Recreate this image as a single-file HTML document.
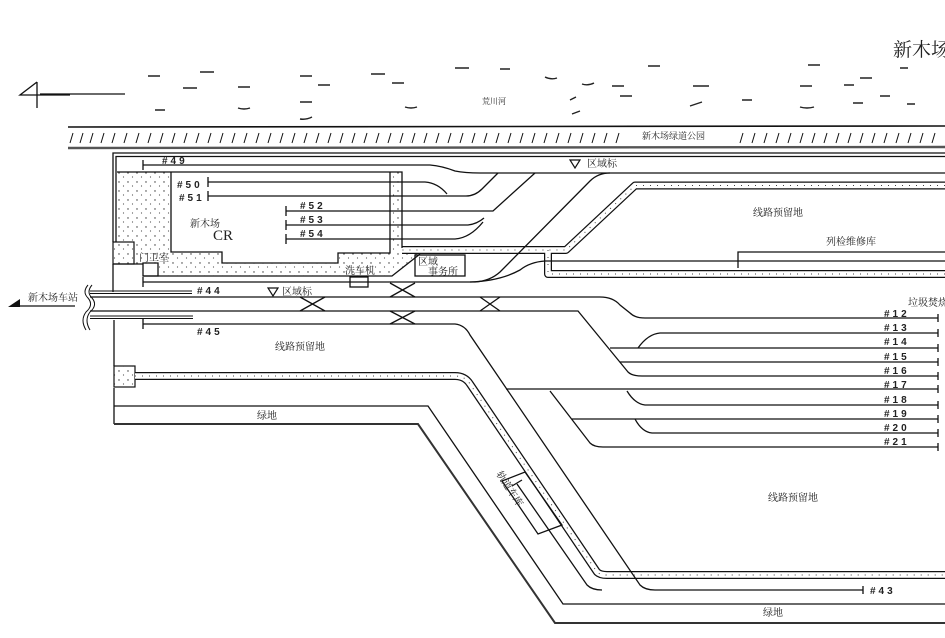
<!DOCTYPE html>
<html><head><meta charset="utf-8"><style>
html,body{margin:0;padding:0;background:#fff;width:945px;height:638px;overflow:hidden}
svg{display:block}
text{font-family:"Liberation Serif","Noto Serif CJK SC",serif;fill:#222}
.t{font-size:10px}
.n{font-size:10px;letter-spacing:3px;font-family:"Liberation Sans","Noto Sans CJK SC",sans-serif;font-weight:bold}
</style></head><body>
<svg width="945" height="638" viewBox="0 0 945 638" xmlns="http://www.w3.org/2000/svg">
<defs>
<pattern id="dots" width="9" height="9" patternUnits="userSpaceOnUse">
<rect width="9" height="9" fill="#fff"/><circle cx="2" cy="2" r="0.7" fill="#333"/><circle cx="6.5" cy="6" r="0.6" fill="#555"/>
</pattern>
</defs>
<text x="893" y="56" style="font-size:19px">新木场</text>
<!-- north arrow -->
<g stroke="#111" stroke-width="1.3" fill="none">
<path d="M37,82 L37,108 M37,82 L20,95 L70,95 M40,94 L125,94"/>
</g>
<!-- river dashes -->
<g stroke="#222" stroke-width="1.4" fill="none">
<path d="M148,76h12 M200,72h14 M300,76h12 M371,74h14 M455,68h14 M500,69h10 M545,77q6,3 12,1 M582,84q6,2 12,-1 M648,66h12 M808,65h12 M860,78h12 M900,68h8
M183,88h14 M238,87h12 M318,85h12 M392,83h12 M612,86h12 M693,86h16 M800,86h12 M844,85h10 M880,96h10
M155,110h10 M238,108q6,2 12,0 M300,102h12 M405,107q6,2 12,0 M570,100l6,-3 M620,96h12 M690,106l12,-4 M742,100h10 M800,107q7,2 14,0 M853,103h10 M907,104h8
M300,119q6,1 12,-2 M572,114l8,-3"/>
</g>
<text x="482" y="104" style="font-size:8px">荒川河</text>
<!-- embankment -->
<g stroke="#111" fill="none">
<path d="M68,127 L945,126" stroke-width="1.6"/>
<path d="M68,148 L945,147" stroke="#555" stroke-width="2.4"/>
<path stroke-width="1" d="M70,143l3,-10 M80,143l3,-10 M90,143l3,-10 M101,143l3,-10 M112,143l3,-10 M124,143l3,-10 M136,143l3,-10 M148,143l3,-10 M160,143l3,-10 M172,143l3,-10 M184,143l3,-10 M196,143l3,-10 M208,143l3,-10 M220,143l3,-10 M232,143l3,-10 M244,143l3,-10 M256,143l3,-10 M268,143l3,-10 M280,143l3,-10 M292,143l3,-10 M304,143l3,-10 M316,143l3,-10 M328,143l3,-10 M340,143l3,-10 M352,143l3,-10 M364,143l3,-10 M376,143l3,-10 M388,143l3,-10 M400,143l3,-10 M412,143l3,-10 M424,143l3,-10 M436,143l3,-10 M448,143l3,-10 M460,143l3,-10 M472,143l3,-10 M484,143l3,-10 M496,143l3,-10 M508,143l3,-10 M520,143l3,-10 M532,143l3,-10 M544,143l3,-10 M556,143l3,-10 M568,143l3,-10 M580,143l3,-10 M592,143l3,-10 M604,143l3,-10 M616,143l3,-10
M740,143l3,-10 M752,143l3,-10 M764,143l3,-10 M776,143l3,-10 M788,143l3,-10 M800,143l3,-10 M812,143l3,-10 M824,143l3,-10 M836,143l3,-10 M848,143l3,-10 M860,143l3,-10 M872,143l3,-10 M884,143l3,-10 M896,143l3,-10 M908,143l3,-10 M920,143l3,-10 M932,143l3,-10"/>
</g>
<text x="642" y="139" style="font-size:9px">新木场绿道公园</text>

<path d="M117,172 L171,172 L171,252 L222,252 L222,263 L338,263 L338,253 L390,253 L390,172 L402,172 L402,248 L418,254 L392,276 L158,276 L158,264 L134,264 L134,242 L117,242 Z" fill="url(#dots)" stroke="none"/>
<rect x="113" y="242" width="21" height="22" fill="url(#dots)" stroke="#111" stroke-width="1.2"/>
<rect x="114" y="366" width="21" height="21" fill="url(#dots)" stroke="#111" stroke-width="1.2"/>

<g fill="none" stroke-linejoin="round">
<path d="M945,185.5 L635,185.5 L566,250 L402,250 M548,250 L548,274 L945,274" stroke="#111" stroke-width="8"/>
<path d="M945,185.5 L635,185.5 L566,250 L402,250 M548,250 L548,274 L945,274" stroke="#fff" stroke-width="5.5"/>
<path d="M945,185.5 L635,185.5 L566,250 L402,250 M548,250 L548,274 L945,274" stroke="#444" stroke-width="1" stroke-dasharray="1 6"/>
<path d="M135,376 L455,376 Q465,376 470,384 L597,572 Q600,575 607,575 L945,575" stroke="#111" stroke-width="8"/>
<path d="M135,376 L455,376 Q465,376 470,384 L597,572 Q600,575 607,575 L945,575" stroke="#fff" stroke-width="5.5"/>
<path d="M135,376 L455,376 Q465,376 470,384 L597,572 Q600,575 607,575 L945,575" stroke="#444" stroke-width="1" stroke-dasharray="1 6"/>
</g>

<g fill="none" stroke="#111" stroke-width="1.3">
<path d="M945,153 L113,153 L113,242"/>
<path d="M945,156.5 L116,156.5 L116,242"/>
<path d="M117,172 L402,172 L402,248"/>
<path d="M171,172 L171,252 L222,252 L222,263 L338,263 L338,253 L390,253 L390,172"/>
<path d="M113,264 L143,264 M143,263 L158,263 L158,276 L143,276 Z"/>
<path d="M143,276 L392,276 L420,254"/>
<path d="M113,264 L113,292 M114,320 L114,366 M114,388 L114,424"/>
<rect x="415" y="255" width="50" height="21"/>
<rect x="350" y="277" width="18" height="10"/>
<path d="M945,252 L738,252 L738,268"/>
<path d="M470,282 Q500,281 520,270 Q530,262 545,261 L945,261"/>
<path d="M143,160 V170 M143,165 L430,165 Q442,166 455,171 Q465,173 480,173 L945,173"/>
<path d="M208,177 V187 M208,182 L425,182 Q438,183 447,194"/>
<path d="M208,191 V201 M208,196 L466,196 Q475,196 482,189 L498,173"/>
<path d="M286,206 V216 M286,211 L493,211 L535,173"/>
<path d="M286,220 V230 M286,225 L468,225 Q477,224 484,218"/>
<path d="M286,234 V244 M286,239 L455,239 Q470,238 483,222"/>
<path d="M143,277 V287 M143,282 L475,282 Q490,281 500,272 L590,181 Q598,173 610,173"/>
<path d="M90,297 L600,297 Q613,297 620,305 L630,313 Q635,318 645,318 L938,318"/>
<path d="M90,311 L578,311 L628,372 Q632,376 642,376 L938,376"/>
<path d="M90,291 L192,291 M90,293.5 L192,293.5" stroke-width="1"/>
<path d="M90,316 L193,316 M90,318.5 L193,318.5" stroke-width="1"/>
<path d="M143,319 V329 M143,324 L455,324 Q465,325 470,335 L640,585 Q645,590 655,590 L863,590 M863,586 V594"/>
<path d="M390,283 L415,297 M390,297 L415,283 M300,297 L325,311 M300,311 L325,297 M390,311 L415,324 M390,324 L415,311 M480,297 L500,311 M480,311 L500,297"/>
<path d="M610,348 L938,348 M638,348 Q648,334 660,333 L938,333 M620,362 L938,362"/>
<path d="M506,389 L938,389 M627,391 Q635,404 645,405 L938,405"/>
<path d="M550,391 L590,443 Q594,447 603,447 L938,447 M572,419 L938,419 M635,419 Q642,432 652,433 L938,433"/>
<path d="M938,314 V322 M938,329 V337 M938,344 V352 M938,358 V366 M938,372 V380 M938,385 V393 M938,401 V409 M938,415 V423 M938,429 V437 M938,443 V451"/>
<path d="M502,481 L525,472 L562,525 L538,534 Z"/>
<path d="M512,486 L522,480 M517,484 L587,585 Q592,590 602,590"/>
<path d="M114,406 L428,406 L563,604 L945,604"/>
<path d="M114,424 L418,424 L555,623 L945,623" stroke-width="2" stroke="#333"/>
<path d="M88,285 Q82,292 88,298 Q94,305 86,312 Q80,320 86,330" stroke-width="1"/>
<path d="M92,285 Q86,292 92,298 Q98,305 90,312 Q84,320 90,330" stroke-width="1"/>
<path d="M20,306 L75,306"/>
</g>
<path d="M8,307 L20,299 L20,307 Z" fill="#111"/>
<path d="M268,288 L278,288 L273,296 Z M570,160 L580,160 L575,168 Z" fill="none" stroke="#111" stroke-width="1.2"/>

<text class="n" x="162" y="164">#49</text>
<text class="n" x="177" y="188">#50</text>
<text class="n" x="179" y="201">#51</text>
<text class="n" x="300" y="209">#52</text>
<text class="n" x="300" y="223">#53</text>
<text class="n" x="300" y="237">#54</text>
<text class="n" x="197" y="294">#44</text>
<text class="n" x="197" y="335">#45</text>
<text class="n" x="884" y="317">#12</text>
<text class="n" x="884" y="331">#13</text>
<text class="n" x="884" y="345">#14</text>
<text class="n" x="884" y="360">#15</text>
<text class="n" x="884" y="374">#16</text>
<text class="n" x="884" y="388">#17</text>
<text class="n" x="884" y="403">#18</text>
<text class="n" x="884" y="417">#19</text>
<text class="n" x="884" y="431">#20</text>
<text class="n" x="884" y="445">#21</text>
<text class="n" x="870" y="594">#43</text>
<text class="t" x="190" y="227">新木场</text>
<text x="213" y="240" style="font-size:15px">CR</text>
<text class="t" x="139" y="261">门卫室</text>
<text class="t" x="345" y="274">洗车机</text>
<text class="t" x="418" y="265">区域</text>
<text class="t" x="428" y="275">事务所</text>
<text class="t" x="282" y="295">区域标</text>
<text class="t" x="587" y="167">区域标</text>
<text class="t" x="753" y="216">线路预留地</text>
<text class="t" x="826" y="245">列检维修库</text>
<text class="t" x="908" y="306">垃圾焚烧</text>
<text class="t" x="275" y="350">线路预留地</text>
<text class="t" x="768" y="501">线路预留地</text>
<text class="t" x="257" y="419">绿地</text>
<text class="t" x="763" y="616">绿地</text>
<text class="t" x="28" y="301">新木场车站</text>
<text class="t" transform="translate(496,474) rotate(57)">轨道车库</text>
</svg>
</body></html>
